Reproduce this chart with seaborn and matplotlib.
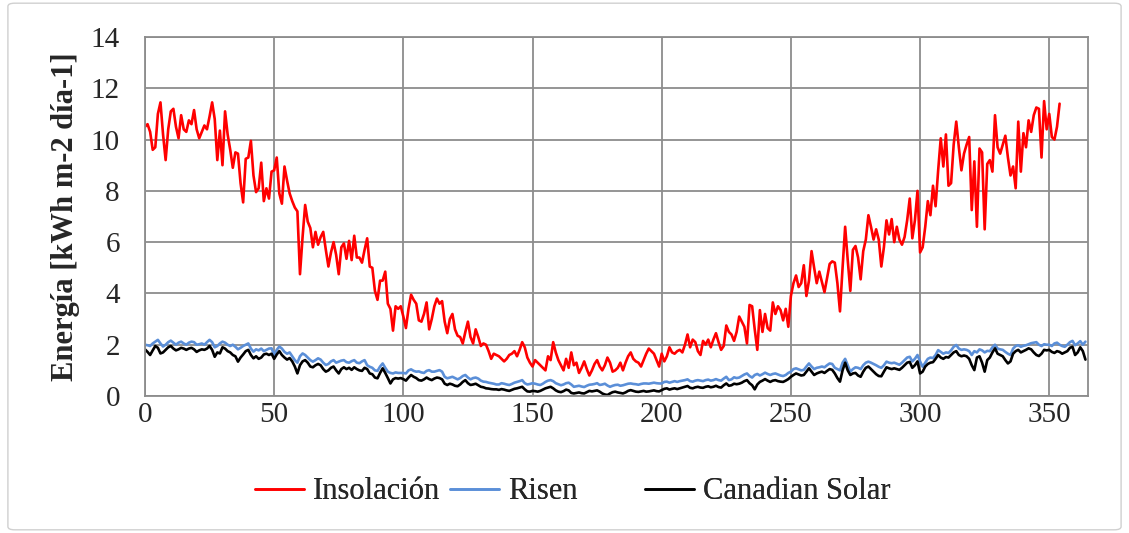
import numpy as np
import pandas as pd
import seaborn as sns
import matplotlib.pyplot as plt
from matplotlib.patches import FancyBboxPatch

# valores diarios (kWh m-2 dia-1)
insolacion = [
    10.5, 10.6, 10.3, 9.6, 9.7, 11.0, 11.45, 10.2, 9.2, 10.4,
    11.1, 11.2, 10.5, 10.05, 10.95, 10.4, 10.3, 10.75, 10.6, 11.15,
    10.4, 10.05, 10.3, 10.55, 10.4, 10.9, 11.45, 10.8, 9.2, 10.35,
    9.0, 11.1, 10.2, 9.6, 8.9, 9.5, 9.45, 8.3, 7.55, 9.25,
    9.3, 9.95, 8.6, 7.95, 8.1, 9.1, 7.6, 8.1, 7.7, 8.75,
    8.8, 9.3, 7.9, 7.5, 8.95, 8.4, 7.9, 7.6, 7.35, 7.2,
    4.75, 6.2, 7.45, 6.8, 6.55, 5.8, 6.4, 5.9, 6.2, 6.4,
    5.7, 5.05, 5.6, 6.0, 5.5, 4.75, 5.8, 5.95, 5.35, 6.05,
    5.3, 6.25, 5.4, 5.4, 5.2, 5.7, 6.15, 5.05, 5.0, 4.1,
    3.75, 4.5, 4.5, 4.85, 3.6, 3.4, 2.55, 3.5, 3.4, 3.5,
    3.1, 2.65, 3.4, 3.95, 3.75, 3.6, 2.95, 2.9, 3.2, 3.65,
    2.6, 3.0, 3.5, 3.8, 3.6, 3.7, 2.9, 2.45, 3.0, 3.2,
    2.6, 2.35, 2.3, 2.05, 2.5, 2.9, 2.3, 2.05, 2.6, 2.3,
    1.95, 2.05, 2.0, 1.75, 1.45, 1.65, 1.6, 1.55, 1.45, 1.35,
    1.45, 1.6, 1.65, 1.75, 1.55, 1.8, 2.1, 1.9, 1.5, 1.3,
    1.15, 1.4, 1.3, 1.2, 1.1, 1.0, 1.55, 1.4, 2.1, 1.7,
    1.4, 1.2, 1.0, 1.45, 1.1, 1.7, 1.2, 1.3, 0.9, 1.1,
    1.35, 1.05, 0.8, 1.0, 1.25, 1.4, 1.15, 1.0, 1.2, 1.5,
    1.3, 0.95, 1.0, 1.1, 1.3, 1.0, 1.3, 1.55, 1.7, 1.45,
    1.35, 1.3, 1.15, 1.4, 1.65, 1.85, 1.75, 1.65, 1.4, 1.15,
    1.65, 1.35, 1.55, 1.9, 1.7, 1.65, 1.75, 1.8, 1.7, 2.0,
    2.4, 1.9, 2.2, 2.1, 1.75, 1.6, 2.15, 2.0, 2.2, 1.9,
    2.2, 2.45, 2.1, 1.8, 1.95, 2.75, 2.5, 2.4, 2.15, 2.5,
    3.1, 2.9, 2.7, 2.05, 3.55, 3.5, 2.6, 1.8, 3.35, 2.5,
    3.2, 2.65, 2.55, 3.65, 3.2, 3.5, 3.35, 2.95, 3.4, 2.7,
    3.9, 4.4, 4.7, 4.25, 4.4, 5.1, 3.9, 4.5, 5.65, 5.0,
    4.4, 4.85, 4.45, 4.05, 4.6, 5.15, 5.25, 5.2, 4.4, 3.3,
    5.0, 6.6, 5.3, 4.1, 5.7, 5.85, 5.4, 4.55, 5.65, 6.1,
    7.05, 6.6, 6.1, 6.5, 6.1, 5.05, 5.8, 6.85, 6.3, 6.9,
    6.0, 6.6, 6.1, 5.9, 6.2, 6.85, 7.7, 6.15, 6.85, 8.0,
    5.6, 5.8, 6.6, 7.6, 7.05, 8.2, 7.4, 8.8, 10.05, 8.95,
    10.2, 8.2, 8.3, 9.8, 10.7, 9.7, 8.8, 9.45, 9.8, 10.1,
    7.25, 9.15, 6.6, 9.65, 9.5, 6.5, 9.05, 9.2, 8.75, 10.95,
    9.7, 9.45, 9.8, 10.15, 9.3, 8.6, 8.95, 8.1, 10.7, 8.75,
    10.25, 9.7, 10.75, 10.3, 10.95, 11.25, 11.2, 9.3, 11.5, 10.4,
    11.0, 10.1, 10.0, 10.5, 11.4,
]

risen = [
    2.0, 1.98, 1.95, 2.05, 2.12, 2.19, 2.05, 1.93, 2.0, 2.1,
    2.16, 2.08, 2.0, 2.08, 2.12, 2.05, 2.0, 2.08, 2.12, 2.1,
    2.0, 2.02, 2.05, 2.0, 2.1, 2.19, 2.1, 1.9, 1.95, 2.05,
    2.12, 2.08, 2.0, 1.95, 2.0, 1.92, 1.82, 1.88, 1.95, 2.0,
    2.05, 1.85, 1.73, 1.82, 1.78, 1.85, 1.75, 1.8, 1.85, 1.86,
    1.6, 1.8, 1.93, 1.85, 1.72, 1.65, 1.7, 1.55, 1.4, 1.3,
    1.55, 1.66, 1.6, 1.5, 1.4, 1.34, 1.4, 1.47, 1.42, 1.3,
    1.21, 1.25, 1.35, 1.4, 1.3, 1.34, 1.38, 1.4, 1.32, 1.3,
    1.36, 1.4, 1.3, 1.28, 1.35, 1.4, 1.2, 1.14, 1.1, 1.0,
    0.98, 1.15, 1.27, 1.1, 0.95, 0.9, 0.88, 0.92, 0.9, 0.9,
    0.9, 0.88, 1.0, 1.04, 0.98, 0.95, 0.96, 0.92, 0.9, 0.98,
    1.01, 0.95, 0.95, 0.98, 1.01, 0.95, 0.75, 0.69, 0.72, 0.75,
    0.7, 0.65, 0.7, 0.78, 0.82, 0.72, 0.65, 0.7, 0.72, 0.68,
    0.6, 0.56, 0.55, 0.52, 0.5, 0.48, 0.45, 0.45, 0.5, 0.48,
    0.45, 0.43, 0.47, 0.52, 0.55, 0.58, 0.62, 0.5, 0.45, 0.47,
    0.5, 0.48, 0.45, 0.43, 0.48, 0.55, 0.6, 0.62, 0.58, 0.5,
    0.46, 0.42, 0.45, 0.5, 0.52, 0.45, 0.36, 0.38, 0.4, 0.37,
    0.35, 0.4, 0.44, 0.45, 0.47, 0.5, 0.43, 0.45, 0.48, 0.41,
    0.36, 0.4, 0.43, 0.44, 0.4, 0.42, 0.45, 0.48, 0.49, 0.47,
    0.46, 0.44, 0.47, 0.49, 0.49, 0.48, 0.5, 0.52, 0.5, 0.49,
    0.49, 0.55, 0.56, 0.52, 0.55, 0.58, 0.55, 0.58, 0.6, 0.62,
    0.65, 0.58, 0.56, 0.6, 0.62, 0.6, 0.58, 0.62, 0.64, 0.6,
    0.62, 0.66, 0.62, 0.6, 0.68, 0.75, 0.62, 0.65, 0.73, 0.7,
    0.72, 0.78, 0.84, 0.88, 0.78, 0.72, 0.82, 0.86, 0.8, 0.85,
    0.91, 0.86, 0.82, 0.86, 0.88, 0.84, 0.8, 0.78, 0.82, 0.9,
    0.95, 1.05, 1.08, 1.04, 1.0, 1.02, 1.15, 1.27, 1.15, 1.05,
    1.1, 1.12, 1.15, 1.12, 1.2, 1.27, 1.25, 1.1, 1.05, 1.0,
    1.3, 1.45, 1.2, 0.95, 1.05, 1.12, 1.1, 1.05, 1.2, 1.3,
    1.34, 1.3, 1.25, 1.2, 1.14, 1.1, 1.2, 1.34, 1.3, 1.28,
    1.3, 1.26, 1.22, 1.3, 1.4, 1.5, 1.53, 1.35, 1.45, 1.6,
    1.35, 1.14, 1.3, 1.45, 1.5, 1.48, 1.6, 1.79, 1.72, 1.65,
    1.7, 1.68, 1.78, 1.92, 1.99, 1.85, 1.8, 1.82, 1.8, 1.75,
    1.6, 1.75, 1.7, 1.82, 1.78, 1.7, 1.76, 1.75, 1.9, 2.0,
    1.85, 1.82, 1.8, 1.72, 1.65, 1.6, 1.85, 1.95, 1.98, 1.92,
    1.96, 1.98, 2.02, 2.06, 2.08, 2.1, 2.0, 1.95, 2.02, 2.0,
    2.0, 1.95, 2.05, 2.08, 2.0, 1.95, 1.92, 2.0, 2.1, 2.15,
    1.98, 2.05, 2.14, 2.0, 2.12,
]

canadian = [
    1.82, 1.72, 1.6, 1.78, 1.95, 1.88, 1.66, 1.7, 1.8, 1.9,
    1.95, 1.85, 1.78, 1.82, 1.88, 1.85, 1.8, 1.85, 1.88, 1.82,
    1.72, 1.78, 1.82, 1.8, 1.85, 1.95, 1.8, 1.53, 1.7, 1.66,
    1.9, 1.85, 1.75, 1.7, 1.6, 1.55, 1.34, 1.5, 1.62, 1.75,
    1.8, 1.6, 1.47, 1.55, 1.45, 1.5, 1.62, 1.65, 1.6, 1.65,
    1.45, 1.62, 1.75, 1.6, 1.5, 1.42, 1.48, 1.35, 1.15, 0.88,
    1.2, 1.35, 1.4, 1.3, 1.15, 1.12, 1.2, 1.25, 1.2, 1.05,
    0.95, 1.0, 1.1, 1.15, 1.0, 0.88, 1.05, 1.12, 1.05, 1.1,
    1.02, 1.12, 1.05, 1.0, 0.98, 1.1, 1.05, 0.88, 0.85, 0.72,
    0.69, 0.9, 1.08, 0.9, 0.7, 0.49, 0.65, 0.7, 0.68, 0.7,
    0.66, 0.6, 0.72, 0.82, 0.75, 0.7, 0.62, 0.6, 0.65, 0.72,
    0.66, 0.62, 0.68, 0.72, 0.7, 0.65, 0.48, 0.43, 0.48, 0.45,
    0.4, 0.38, 0.45, 0.55, 0.62, 0.5, 0.43, 0.45, 0.48, 0.42,
    0.36, 0.34, 0.3, 0.29, 0.27, 0.26, 0.26, 0.24, 0.27, 0.25,
    0.22, 0.2, 0.24, 0.28, 0.3, 0.33, 0.36, 0.26, 0.18, 0.17,
    0.2, 0.19, 0.17, 0.2, 0.25, 0.3, 0.33, 0.36, 0.3, 0.22,
    0.17, 0.15, 0.19, 0.25, 0.22, 0.12, 0.1, 0.12, 0.14, 0.11,
    0.1, 0.15, 0.2, 0.18, 0.2, 0.22, 0.17, 0.1, 0.06, 0.04,
    0.1, 0.15, 0.17, 0.14, 0.12, 0.1, 0.14, 0.2, 0.23, 0.2,
    0.17, 0.16, 0.18, 0.2, 0.17, 0.18, 0.2, 0.22, 0.19, 0.18,
    0.23, 0.28, 0.3, 0.25, 0.28, 0.3, 0.27, 0.3, 0.33, 0.36,
    0.39, 0.32, 0.3, 0.34, 0.36, 0.33, 0.32, 0.36, 0.38, 0.34,
    0.36, 0.4, 0.35, 0.33, 0.42, 0.49, 0.4, 0.42, 0.48, 0.46,
    0.48, 0.52, 0.58, 0.62, 0.5, 0.42, 0.26, 0.45, 0.55, 0.6,
    0.66, 0.6, 0.55, 0.6, 0.62, 0.58, 0.56, 0.55, 0.6, 0.66,
    0.75, 0.82, 0.88, 0.84, 0.8, 0.82, 0.95, 1.08, 0.95, 0.82,
    0.88, 0.92, 0.95, 0.9, 0.98, 1.05, 1.02, 0.88, 0.7, 0.56,
    1.0, 1.3, 1.0, 0.82, 0.88, 0.9, 0.8, 0.75, 0.95, 1.1,
    1.15, 1.05, 0.95, 0.85, 0.78, 0.77, 0.95, 1.12, 1.08, 1.05,
    1.08, 1.05, 1.02, 1.1, 1.2, 1.3, 1.33, 1.1, 1.2, 1.35,
    0.88, 0.95, 1.15, 1.25, 1.3, 1.32, 1.45, 1.6, 1.5, 1.45,
    1.52, 1.5, 1.6, 1.7, 1.75, 1.6, 1.55, 1.58, 1.55, 1.45,
    1.2, 1.01, 1.5, 1.55, 1.3, 0.95, 1.4, 1.5, 1.7, 1.86,
    1.65, 1.6, 1.55, 1.4, 1.27, 1.35, 1.65, 1.75, 1.8, 1.7,
    1.75, 1.8, 1.86, 1.82, 1.7, 1.6, 1.56, 1.65, 1.8, 1.78,
    1.8, 1.72, 1.68, 1.75, 1.72, 1.65, 1.7, 1.75, 1.88, 1.92,
    1.6, 1.7, 1.9, 1.75, 1.42,
]

series = ["Insolación", "Risen", "Canadian Solar"]
colores = ["#FF0000", "#5B8FD8", "#000000"]
x_ticks = [0, 50, 100, 150, 200, 250, 300, 350]
y_ticks = [0, 2, 4, 6, 8, 10, 12, 14]

df = pd.concat([
    pd.DataFrame({"dia": np.arange(len(v)), "valor": v, "serie": s})
    for s, v in zip(series, [insolacion, risen, canadian])
])

sns.set_style("white")
plt.rcParams["font.family"] = ["Liberation Serif", "DejaVu Serif"]

fig = plt.figure(figsize=(11.29, 5.33), dpi=100)
ax = fig.add_axes([0.1284, 0.257, 0.8353, 0.6736])

sns.lineplot(data=df, x="dia", y="valor", hue="serie", hue_order=series,
             palette=colores, linewidth=1.9, ax=ax, legend=False)

ax.set_xlim(0, 365)
ax.set_ylim(0, 14)
ax.set_xticks(x_ticks)
ax.set_yticks(y_ticks)
ax.tick_params(axis="both", labelsize=21, length=0)
ax.tick_params(axis="x", pad=4)
ax.tick_params(axis="y", pad=18)
ax.grid(True, color="#8c8c8c", linewidth=1.3)
ax.set_axisbelow(True)
for sp in ax.spines.values():
    sp.set_color("#8c8c8c")
    sp.set_linewidth(1.3)

ax.set_xlabel("")
ax.set_ylabel("Energía [kWh m-2 día-1]", fontsize=22, fontweight="bold")
ax.yaxis.set_label_coords(-0.069, 0.5)

# una leyenda por serie, con anchos iguales como en el original
for i, (s, c) in enumerate(zip(series, colores)):
    h = plt.Line2D([], [], color=c, linewidth=1.9)
    leg = fig.legend([h], [s], loc="center left",
                     bbox_to_anchor=(0.2259 + i * 0.1727, 0.077),
                     frameon=False, fontsize=22, handlelength=1.6,
                     handletextpad=0.3, borderpad=0, borderaxespad=0)
    fig.add_artist(leg)

fig.patches.append(FancyBboxPatch((0.007, 0.006), 0.986, 0.988,
                                  boxstyle="round,pad=0,rounding_size=0.006",
                                  transform=fig.transFigure, fill=False,
                                  edgecolor="#d0d0d0", linewidth=1.0))

fig.savefig("out.png", dpi=100)
